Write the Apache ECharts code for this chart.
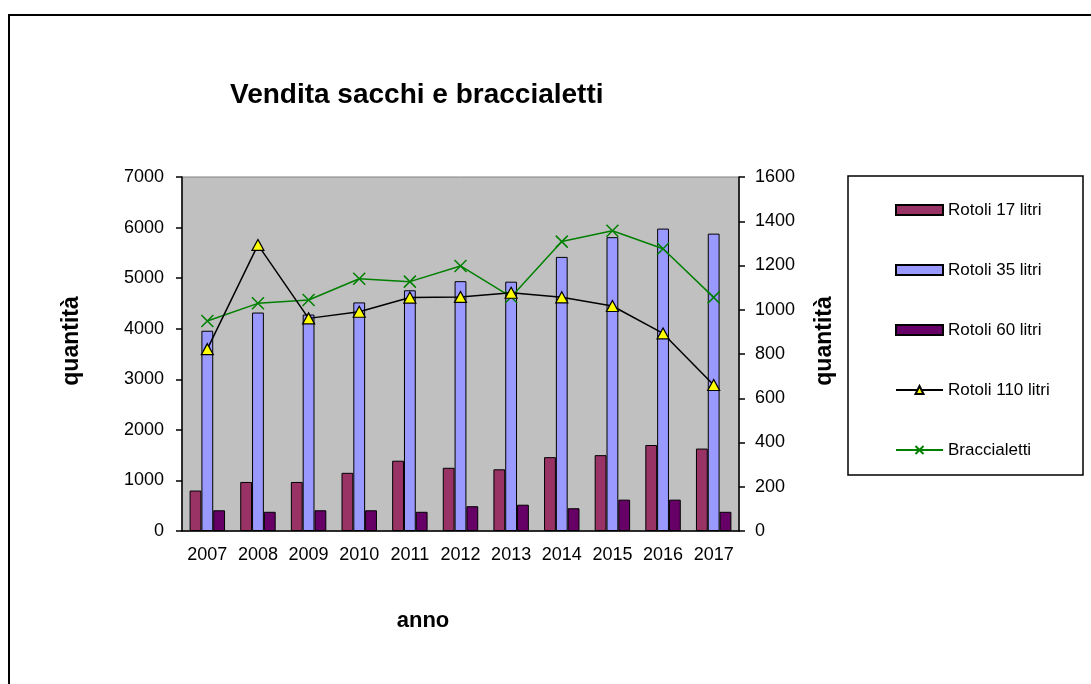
<!DOCTYPE html>
<html>
<head>
<meta charset="utf-8">
<title>Vendita sacchi e braccialetti</title>
<script src="https://cdn.jsdelivr.net/npm/echarts@6/dist/echarts.min.js"></script>
<style>
  html, body { margin: 0; padding: 0; background: #fff; }
  #chart { width: 1091px; height: 684px; }
</style>
</head>
<body>
<div id="chart"></div>
<script>
// dati
var anni = ['2007', '2008', '2009', '2010', '2011', '2012', '2013', '2014', '2015', '2016', '2017'];
var rotoli17 = [800, 970, 970, 1150, 1390, 1250, 1220, 1460, 1500, 1700, 1630];
var rotoli35 = [3960, 4320, 4280, 4520, 4760, 4940, 4930, 5420, 5810, 5980, 5880];
var rotoli60 = [410, 380, 410, 410, 380, 490, 520, 450, 620, 620, 380];
var rotoli110 = [822, 1293, 961, 991, 1055, 1058, 1077, 1056, 1017, 893, 660];
var braccialetti = [949, 1029, 1044, 1140, 1127, 1198, 1058, 1308, 1357, 1276, 1056];

var FONT = 'Arial, "Liberation Sans", sans-serif';

var chart = echarts.init(document.getElementById('chart'));

function barra(nome, dati, colore) {
  return {
    name: nome,
    type: 'bar',
    yAxisIndex: 0,
    barGap: '0%',
    barCategoryGap: '30%',
    itemStyle: { color: colore, borderColor: '#000', borderWidth: 1 },
    data: dati
  };
}

// niente separatore delle migliaia
function numero(v) { return String(v); }

var option = {
  animation: false,
  textStyle: { fontFamily: FONT },
  title: {
    text: 'Vendita sacchi e braccialetti',
    left: 225,
    top: 76,
    textStyle: { fontSize: 28, fontWeight: 'bold', color: '#000', fontFamily: FONT }
  },
  legend: {
    orient: 'vertical',
    left: 890,
    top: 195,
    itemWidth: 47,
    itemHeight: 10,
    itemGap: 40,
    textStyle: { fontSize: 17, color: '#000', lineHeight: 20, fontFamily: FONT },
    data: [
      { name: 'Rotoli 17 litri', icon: 'rect' },
      { name: 'Rotoli 35 litri', icon: 'rect' },
      { name: 'Rotoli 60 litri', icon: 'rect' },
      'Rotoli 110 litri',
      'Braccialetti'
    ]
  },
  grid: {
    left: 182,
    right: 352,
    top: 177,
    bottom: 153,
    show: true,
    backgroundColor: '#C0C0C0',
    borderColor: '#808080',
    borderWidth: 1
  },
  xAxis: {
    type: 'category',
    data: anni,
    axisLine: { lineStyle: { color: '#000', width: 1.5 } },
    axisTick: { length: 6, lineStyle: { color: '#000', width: 1.5 } },
    axisLabel: { color: '#000', fontSize: 18, margin: 15, interval: 0, fontFamily: FONT }
  },
  yAxis: [{
    type: 'value',
    min: 0,
    max: 7000,
    interval: 1000,
    axisLine: { show: true, lineStyle: { color: '#000', width: 1.5 } },
    axisTick: { show: true, length: 6, lineStyle: { color: '#000', width: 1.5 } },
    axisLabel: { color: '#000', fontSize: 18, margin: 18, formatter: numero, fontFamily: FONT },
    splitLine: { show: false }
  }, {
    type: 'value',
    position: 'right',
    min: 0,
    max: 1600,
    interval: 200,
    axisLine: { show: true, lineStyle: { color: '#000', width: 1.5 } },
    axisTick: { show: true, length: 6, lineStyle: { color: '#000', width: 1.5 } },
    axisLabel: { color: '#000', fontSize: 18, margin: 16, formatter: numero, fontFamily: FONT },
    splitLine: { show: false }
  }],
  graphic: [
    // cornice esterna (esce dal bordo destro e inferiore)
    { type: 'rect', shape: { x: 9, y: 15, width: 1300, height: 900 },
      style: { fill: 'none', stroke: '#000', lineWidth: 2 }, silent: true },
    // riquadro legenda
    { type: 'rect', shape: { x: 848, y: 176, width: 235, height: 299 },
      style: { fill: 'none', stroke: '#000', lineWidth: 1.5 }, silent: true },
    { type: 'text', x: 423, y: 621,
      style: { text: 'anno', font: 'bold 22px ' + FONT, fill: '#000', textAlign: 'center', textVerticalAlign: 'middle' } },
    { type: 'text', x: 72, y: 341, rotation: Math.PI / 2,
      style: { text: 'quantità', font: 'bold 23px ' + FONT, fill: '#000', textAlign: 'center', textVerticalAlign: 'middle' } },
    { type: 'text', x: 825, y: 341, rotation: Math.PI / 2,
      style: { text: 'quantità', font: 'bold 23px ' + FONT, fill: '#000', textAlign: 'center', textVerticalAlign: 'middle' } }
  ],
  series: [
    barra('Rotoli 17 litri', rotoli17, '#993366'),
    barra('Rotoli 35 litri', rotoli35, '#9999FF'),
    barra('Rotoli 60 litri', rotoli60, '#660066'),
    {
      name: 'Rotoli 110 litri',
      type: 'line',
      yAxisIndex: 1,
      symbol: 'triangle',
      symbolSize: [12, 11],
      showAllSymbol: true,
      lineStyle: { color: '#000', width: 1.5 },
      itemStyle: { color: '#FFFF00', borderColor: '#000', borderWidth: 1.2 },
      z: 5,
      data: rotoli110
    },
    {
      name: 'Braccialetti',
      type: 'line',
      yAxisIndex: 1,
      symbol: 'path://M0,0L10,10M10,0L0,10',
      symbolSize: 12,
      showAllSymbol: true,
      lineStyle: { color: '#008000', width: 1.5 },
      itemStyle: { color: '#008000', borderColor: '#008000', borderWidth: 1.5 },
      z: 4,
      data: braccialetti
    }
  ]
};

chart.setOption(option);
</script>
</body>
</html>
